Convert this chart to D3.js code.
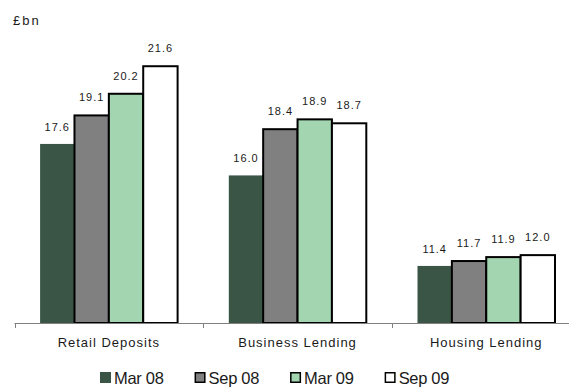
<!DOCTYPE html>
<html>
<head>
<meta charset="utf-8">
<script src="https://cdn.jsdelivr.net/npm/d3@7"></script>
<style>
  html, body { margin: 0; padding: 0; background: #fff; }
  svg { display: block; }
  text { font-family: "Liberation Sans", Arial, sans-serif; fill: #1a1a1a; }
</style>
</head>
<body>
<script>
// Balances by portfolio, £bn, at four reporting dates
const categories = ["Retail Deposits", "Business Lending", "Housing Lending"];
const periods = ["Mar 08", "Sep 08", "Mar 09", "Sep 09"];
const mar08 = [17.6, 16.0, 11.4];
const sep08 = [19.1, 18.4, 11.7];
const mar09 = [20.2, 18.9, 11.9];
const sep09 = [21.6, 18.7, 12.0];
const seriesValues = [mar08, sep08, mar09, sep09];

const fills = ["#3a5446", "#808080", "#a3d5b0", "#ffffff"];
const strokes = [null, "#000", "#000", "#000"];

const W = 569, H = 388;
const svg = d3.select("body").append("svg").attr("width", W).attr("height", H);
svg.append("rect").attr("width", W).attr("height", H).attr("fill", "#fff");

const baseY = 323;
const y = d3.scaleLinear().domain([8.5, 24]).range([baseY, 18]);

// Category bands run past the right edge of the frame
const x0 = d3.scaleBand().domain(categories).range([14.5, 580.6]).padding(0);
const groupPad = 25.6;
const x1 = d3.scaleBand().domain(periods)
  .range([groupPad, x0.bandwidth() - groupPad]).padding(0);

// Unit label
svg.append("text").attr("x", 13).attr("y", 25)
  .style("font-size", "13px").style("letter-spacing", "2px").text("£bn");

const rows = [];
periods.forEach((p, si) => {
  categories.forEach((c, ci) => rows.push({ period: p, si, cat: c, v: seriesValues[si][ci] }));
});

// Bars
svg.append("g").selectAll("rect").data(rows).join("rect")
  .attr("x", d => x0(d.cat) + x1(d.period))
  .attr("y", d => y(d.v) + (strokes[d.si] ? 1 : 0))
  .attr("width", x1.bandwidth())
  .attr("height", d => baseY - y(d.v) - (strokes[d.si] ? 1 : 0))
  .attr("fill", d => fills[d.si])
  .attr("stroke", d => strokes[d.si] || "none")
  .attr("stroke-width", 2);

// Value labels
svg.append("g").selectAll("text").data(rows).join("text")
  .attr("x", d => x0(d.cat) + x1(d.period) + x1.bandwidth() / 2)
  .attr("y", d => y(d.v) - 13)
  .attr("text-anchor", "middle")
  .style("font-size", "11px").style("letter-spacing", "1px")
  .text(d => d.v.toFixed(1));

// Category axis
const axis = svg.append("g");
axis.append("line")
  .attr("x1", x0.range()[0]).attr("x2", x0.range()[1])
  .attr("y1", baseY + 0.5).attr("y2", baseY + 0.5)
  .attr("stroke", "#808080").attr("stroke-width", 1);
axis.selectAll("line.tick").data(categories).join("line")
  .attr("class", "tick")
  .attr("x1", d => Math.round(x0(d)) + 0.5).attr("x2", d => Math.round(x0(d)) + 0.5)
  .attr("y1", baseY).attr("y2", baseY + 5)
  .attr("stroke", "#808080").attr("stroke-width", 1);
axis.selectAll("text").data(categories).join("text")
  .attr("x", d => x0(d) + x0.bandwidth() / 2)
  .attr("y", 347)
  .attr("text-anchor", "middle")
  .style("font-size", "13px").style("letter-spacing", "1px")
  .text(d => d);

// Legend
const legend = svg.append("g");
let lx = 100;
periods.forEach((p, i) => {
  const g = legend.append("g");
  if (strokes[i]) {
    g.append("rect").attr("x", lx + 0.75).attr("y", 372.75).attr("width", 9.5).attr("height", 9.5)
      .attr("fill", fills[i]).attr("stroke", "#000").attr("stroke-width", 1.5);
  } else {
    g.append("rect").attr("x", lx).attr("y", 372).attr("width", 11).attr("height", 11)
      .attr("fill", fills[i]);
  }
  const t = g.append("text").attr("x", lx + 14).attr("y", 383.5)
    .style("font-size", "16.5px").style("letter-spacing", "-0.3px").text(p);
  lx += 14 + t.node().getComputedTextLength() + 31;
});
</script>
</body>
</html>
